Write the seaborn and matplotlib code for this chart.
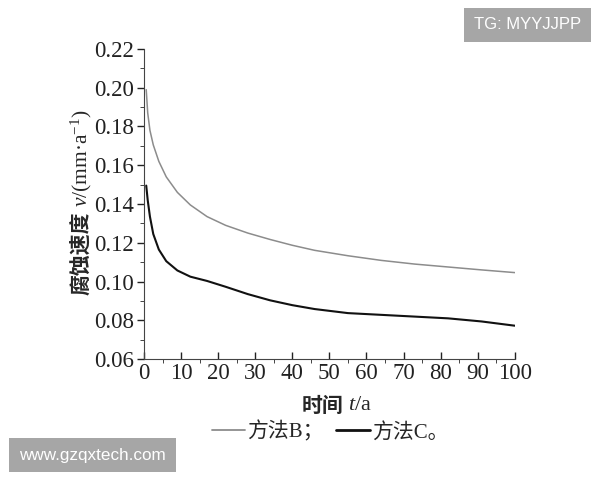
import numpy as np
import pandas as pd
import matplotlib
matplotlib.use("Agg")
import matplotlib.pyplot as plt
import seaborn as sns

# values
t = [0.6, 1.0, 1.6, 2.5, 4, 6, 9, 12.5, 17, 22, 28, 34, 40, 46, 55, 64, 73, 82, 91, 100]
rate_b = [0.199, 0.187, 0.178, 0.1705, 0.162, 0.154, 0.146, 0.1395, 0.1335, 0.129,
          0.125, 0.1217, 0.1187, 0.1161, 0.1133, 0.1109, 0.109, 0.1075, 0.106, 0.1046]
rate_c = [0.1495, 0.142, 0.1335, 0.1245, 0.1165, 0.1105, 0.1057, 0.1025, 0.1003, 0.0973,
          0.0935, 0.0903, 0.0878, 0.0858, 0.0837, 0.0828, 0.0819, 0.0810, 0.0794, 0.0772]
labels = ["方法B；", "方法C。"]

df = pd.DataFrame({
    "t": t * 2,
    "v": rate_b + rate_c,
    "method": [labels[0]] * len(t) + [labels[1]] * len(t),
})

sns.set_style("ticks")
plt.rcParams["font.family"] = ["Liberation Serif", "Noto Sans CJK SC"]
plt.rcParams["mathtext.fontset"] = "custom"
plt.rcParams["mathtext.rm"] = "Liberation Serif"
plt.rcParams["mathtext.it"] = "Liberation Serif:italic"

fig = plt.figure(figsize=(6, 4.8), dpi=100)
ax = fig.add_axes([0.24, 0.252, 0.618, 0.646])

sns.lineplot(data=df, x="t", y="v", hue="method", palette=["#8c8c8c", "#111111"],
             ax=ax, legend=False)
for ln, lw in zip(ax.lines, [1.1, 1.5]):
    ln.set_linewidth(lw)

ax.set_xlim(0, 100)
ax.set_ylim(0.06, 0.22)
ax.set_xticks(np.arange(0, 101, 10))
ax.set_xticks(np.arange(5, 100, 10), minor=True)
ax.set_yticks(np.arange(0.06, 0.2201, 0.02))
ax.set_yticks(np.arange(0.07, 0.22, 0.02), minor=True)
ax.set_yticklabels([f"{v:.2f}" for v in np.arange(0.06, 0.2201, 0.02)])
ax.tick_params(axis="both", labelsize=16.5, colors="#222222", width=1, length=5)
ax.tick_params(axis="x", direction="in", pad=3)
ax.tick_params(axis="y", pad=2)
ax.tick_params(axis="both", which="minor", length=3)
for s in ["left", "bottom"]:
    ax.spines[s].set_color("#444444")
sns.despine(ax=ax)
ax.set_xlabel("")
ax.set_ylabel("")

# axis titles: CJK part + serif/italic part
cjk = dict(family=["Noto Sans CJK SC"], fontsize=15, weight="bold")
ax.text(-0.17, 0.205, "腐蚀速度", rotation=90, ha="center", va="bottom",
        transform=ax.transAxes, **cjk)
ax.text(-0.17, 0.49, r"$v$/(mm·a$^{-1}$)", rotation=90, ha="center", va="bottom",
        transform=ax.transAxes, fontsize=15.5)
fig.text(0.572, 0.156, "时间", ha="right", va="center", **cjk)
fig.text(0.58, 0.156, r"$t$/a", ha="left", va="center", fontsize=16)

# legend below the axes
handles = [plt.Line2D([], [], color="#8c8c8c", lw=1.3), plt.Line2D([], [], color="#111111", lw=2)]
fig.legend(handles, labels, loc="center", bbox_to_anchor=(0.55, 0.1), ncol=2, frameon=False,
           handlelength=1.6, handletextpad=0.1, columnspacing=0.6,
           prop={"family": ["Liberation Serif", "Noto Sans CJK SC"], "size": 15})

# watermarks
box = dict(facecolor="#a6a6a6", edgecolor="none", pad=7)
fig.text(0.879, 0.948, "TG: MYYJJPP", ha="center", va="center", color="white",
         family="Liberation Sans", fontsize=12, bbox=box)
fig.text(0.154, 0.052, "www.gzqxtech.com", ha="center", va="center", color="white",
         family="Liberation Sans", fontsize=12.3, bbox=box)

fig.savefig("out.png", dpi=100)
